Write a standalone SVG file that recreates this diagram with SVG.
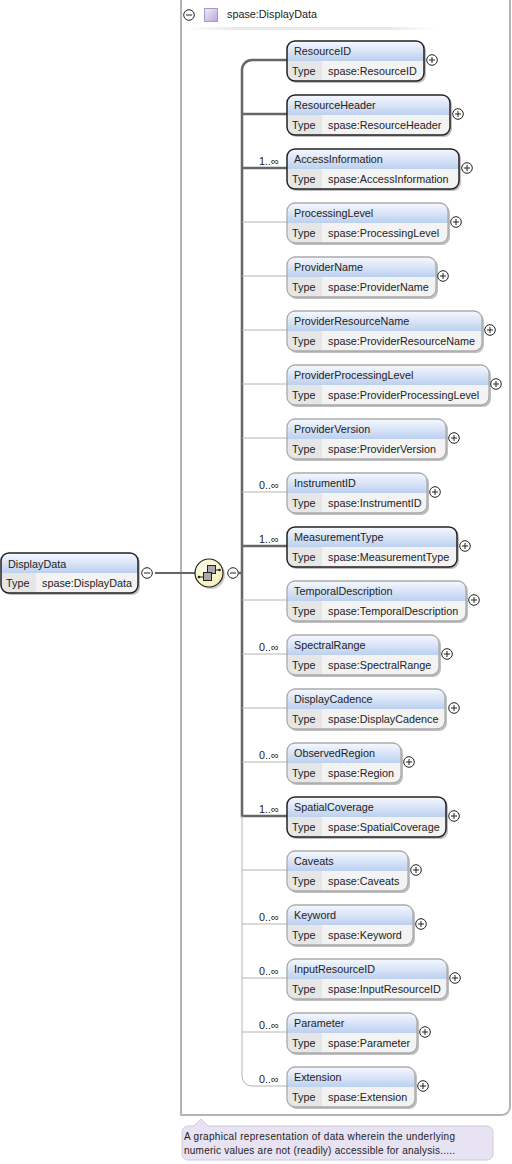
<svg xmlns="http://www.w3.org/2000/svg" width="512" height="1164" viewBox="0 0 512 1164">
<style>
text{font-family:"Liberation Sans",Arial,sans-serif;font-size:10.8px;fill:#222}
.sh{fill:#8a8a8a;opacity:.55}
.hd{fill:url(#hg)}
.bd{fill:#f3f3f3}
.ty{fill:#e6e6e6}
.ol{fill:none;stroke:#aaa;stroke-width:1.3}
.req .ol{stroke:#222;stroke-width:1.5}
.btn{fill:#fff;stroke:#222;stroke-width:1}
.sym{stroke:#222;stroke-width:1;fill:none}
.thick{stroke:#666;stroke-width:2.5;fill:none}
.thin{stroke:#b4b4b4;stroke-width:1;fill:none}
</style>
<defs>
<linearGradient id="hg" x1="0" y1="0" x2="0" y2="1"><stop offset="0" stop-color="#f7f9fe"/><stop offset="1" stop-color="#bcd0f0"/></linearGradient>
<linearGradient id="sq" x1="0" y1="0" x2="1" y2="1"><stop offset="0" stop-color="#f0ecf8"/><stop offset="1" stop-color="#b8a8d8"/></linearGradient>
<linearGradient id="sep" x1="0" y1="0" x2="1" y2="0"><stop offset="0" stop-color="#fff"/><stop offset=".2" stop-color="#e8e8e8"/><stop offset=".8" stop-color="#e8e8e8"/><stop offset="1" stop-color="#fff"/></linearGradient>
<radialGradient id="yl" cx=".4" cy=".35" r=".7"><stop offset="0" stop-color="#fffdf0"/><stop offset="1" stop-color="#f5efb4"/></radialGradient>
<g id="plus"><circle class="btn" r="5.3"/><path class="sym" d="M-3 0H3M0-3V3"/></g>
<g id="minus"><circle class="btn" r="5.3"/><path class="sym" d="M-3 0H3"/></g>
</defs>
<g id="container">
<path d="M181 0V1115H502a8 8 0 0 0 8-8V0" fill="none" stroke="#b4b4b4" stroke-width="2"/>
<rect x="186" y="27" width="250" height="3" fill="url(#sep)"/>
<use href="#minus" x="189" y="15"/>
<rect x="204.500" y="8.500" width="13" height="13" fill="url(#sq)" stroke="#a898c8"/>
<text x="227" y="18">spase:DisplayData</text>
</g>
<g id="connectors">
<path class="thick" d="M155 573H195" style="stroke-width:2"/>
<path class="thick" d="M287 60H252a10 10 0 0 0-10 10V816H287M242 114H287M242 168H287M242 546H287M239 573H242"/>
<path class="thin" d="M242 816V1076a10 10 0 0 0 10 10H287M242 222H287M242 276H287M242 330H287M242 384H287M242 438H287M242 492H287M242 600H287M242 654H287M242 708H287M242 762H287M242 870H287M242 924H287M242 978H287M242 1032H287"/>
</g>
<g id="compositor">
<circle cx="211" cy="575" r="14" fill="#8a8a8a" opacity=".45"/>
<circle cx="209" cy="573" r="14" fill="url(#yl)" stroke="#222" stroke-width="1.2"/>
<path d="M203 577H199M215 570H219" stroke="#222" stroke-width="1.2"/>
<rect x="207.500" y="565.500" width="8" height="8" fill="#aaa" stroke="#222"/>
<rect x="203.500" y="572.500" width="8" height="8" fill="#aaa" stroke="#222"/>
<circle cx="199" cy="577" r="1.300" fill="#222"/><circle cx="219.500" cy="570" r="1.300" fill="#222"/>
<use href="#minus" x="233" y="573"/>
</g>
<g id="n-DisplayData" class="req" transform="translate(1,553)">
<rect class="sh" x="2" y="2" width="137" height="40" rx="8"/>
<path class="hd" d="M0 20V8a8 8 0 0 1 8-8H129a8 8 0 0 1 8 8V20Z"/>
<path class="bd" d="M0 20H137V32a8 8 0 0 1-8 8H8a8 8 0 0 1-8-8Z"/>
<path class="ty" d="M0 20H35V40H8a8 8 0 0 1-8-8Z"/>
<rect class="ol" width="137" height="40" rx="8"/>
<text x="7" y="15">DisplayData</text><text x="5" y="34">Type</text><text x="41" y="34">spase:DisplayData</text>
<use href="#minus" x="146" y="20"/>
</g>
<g id="n-ResourceID" class="req" transform="translate(287,41)">
<rect class="sh" x="2" y="2" width="137" height="40" rx="8"/><path class="hd" d="M0 20V8a8 8 0 0 1 8-8H129a8 8 0 0 1 8 8V20Z"/><path class="bd" d="M0 20H137V32a8 8 0 0 1-8 8H8a8 8 0 0 1-8-8Z"/><path class="ty" d="M0 20H35V40H8a8 8 0 0 1-8-8Z"/><rect class="ol" width="137" height="40" rx="8"/>
<text x="7" y="14">ResourceID</text><text x="5" y="34">Type</text><text x="41" y="34">spase:ResourceID</text><use href="#plus" x="145" y="19"/></g>
<g id="n-ResourceHeader" class="req" transform="translate(287,95)">
<rect class="sh" x="2" y="2" width="163" height="40" rx="8"/><path class="hd" d="M0 20V8a8 8 0 0 1 8-8H155a8 8 0 0 1 8 8V20Z"/><path class="bd" d="M0 20H163V32a8 8 0 0 1-8 8H8a8 8 0 0 1-8-8Z"/><path class="ty" d="M0 20H35V40H8a8 8 0 0 1-8-8Z"/><rect class="ol" width="163" height="40" rx="8"/>
<text x="7" y="14">ResourceHeader</text><text x="5" y="34">Type</text><text x="41" y="34">spase:ResourceHeader</text><use href="#plus" x="171" y="19"/></g>
<g id="n-AccessInformation" class="req" transform="translate(287,149)">
<rect class="sh" x="2" y="2" width="172" height="40" rx="8"/><path class="hd" d="M0 20V8a8 8 0 0 1 8-8H164a8 8 0 0 1 8 8V20Z"/><path class="bd" d="M0 20H172V32a8 8 0 0 1-8 8H8a8 8 0 0 1-8-8Z"/><path class="ty" d="M0 20H35V40H8a8 8 0 0 1-8-8Z"/><rect class="ol" width="172" height="40" rx="8"/>
<text x="7" y="14">AccessInformation</text><text x="5" y="34">Type</text><text x="41" y="34">spase:AccessInformation</text><use href="#plus" x="180" y="19"/><text x="-28" y="16">1..∞</text></g>
<g id="n-ProcessingLevel" transform="translate(287,203)">
<rect class="sh" x="2" y="2" width="161" height="40" rx="8"/><path class="hd" d="M0 20V8a8 8 0 0 1 8-8H153a8 8 0 0 1 8 8V20Z"/><path class="bd" d="M0 20H161V32a8 8 0 0 1-8 8H8a8 8 0 0 1-8-8Z"/><path class="ty" d="M0 20H35V40H8a8 8 0 0 1-8-8Z"/><rect class="ol" width="161" height="40" rx="8"/>
<text x="7" y="14">ProcessingLevel</text><text x="5" y="34">Type</text><text x="41" y="34">spase:ProcessingLevel</text><use href="#plus" x="169" y="19"/></g>
<g id="n-ProviderName" transform="translate(287,257)">
<rect class="sh" x="2" y="2" width="149" height="40" rx="8"/><path class="hd" d="M0 20V8a8 8 0 0 1 8-8H141a8 8 0 0 1 8 8V20Z"/><path class="bd" d="M0 20H149V32a8 8 0 0 1-8 8H8a8 8 0 0 1-8-8Z"/><path class="ty" d="M0 20H35V40H8a8 8 0 0 1-8-8Z"/><rect class="ol" width="149" height="40" rx="8"/>
<text x="7" y="14">ProviderName</text><text x="5" y="34">Type</text><text x="41" y="34">spase:ProviderName</text><use href="#plus" x="156" y="19"/></g>
<g id="n-ProviderResourceName" transform="translate(287,311)">
<rect class="sh" x="2" y="2" width="195" height="40" rx="8"/><path class="hd" d="M0 20V8a8 8 0 0 1 8-8H187a8 8 0 0 1 8 8V20Z"/><path class="bd" d="M0 20H195V32a8 8 0 0 1-8 8H8a8 8 0 0 1-8-8Z"/><path class="ty" d="M0 20H35V40H8a8 8 0 0 1-8-8Z"/><rect class="ol" width="195" height="40" rx="8"/>
<text x="7" y="14">ProviderResourceName</text><text x="5" y="34">Type</text><text x="41" y="34">spase:ProviderResourceName</text><use href="#plus" x="203" y="19"/></g>
<g id="n-ProviderProcessingLevel" transform="translate(287,365)">
<rect class="sh" x="2" y="2" width="202" height="40" rx="8"/><path class="hd" d="M0 20V8a8 8 0 0 1 8-8H194a8 8 0 0 1 8 8V20Z"/><path class="bd" d="M0 20H202V32a8 8 0 0 1-8 8H8a8 8 0 0 1-8-8Z"/><path class="ty" d="M0 20H35V40H8a8 8 0 0 1-8-8Z"/><rect class="ol" width="202" height="40" rx="8"/>
<text x="7" y="14">ProviderProcessingLevel</text><text x="5" y="34">Type</text><text x="41" y="34">spase:ProviderProcessingLevel</text><use href="#plus" x="209" y="19"/></g>
<g id="n-ProviderVersion" transform="translate(287,419)">
<rect class="sh" x="2" y="2" width="159" height="40" rx="8"/><path class="hd" d="M0 20V8a8 8 0 0 1 8-8H151a8 8 0 0 1 8 8V20Z"/><path class="bd" d="M0 20H159V32a8 8 0 0 1-8 8H8a8 8 0 0 1-8-8Z"/><path class="ty" d="M0 20H35V40H8a8 8 0 0 1-8-8Z"/><rect class="ol" width="159" height="40" rx="8"/>
<text x="7" y="14">ProviderVersion</text><text x="5" y="34">Type</text><text x="41" y="34">spase:ProviderVersion</text><use href="#plus" x="167" y="19"/></g>
<g id="n-InstrumentID" transform="translate(287,473)">
<rect class="sh" x="2" y="2" width="140" height="40" rx="8"/><path class="hd" d="M0 20V8a8 8 0 0 1 8-8H132a8 8 0 0 1 8 8V20Z"/><path class="bd" d="M0 20H140V32a8 8 0 0 1-8 8H8a8 8 0 0 1-8-8Z"/><path class="ty" d="M0 20H35V40H8a8 8 0 0 1-8-8Z"/><rect class="ol" width="140" height="40" rx="8"/>
<text x="7" y="14">InstrumentID</text><text x="5" y="34">Type</text><text x="41" y="34">spase:InstrumentID</text><use href="#plus" x="148" y="19"/><text x="-28" y="16">0..∞</text></g>
<g id="n-MeasurementType" class="req" transform="translate(287,527)">
<rect class="sh" x="2" y="2" width="170" height="40" rx="8"/><path class="hd" d="M0 20V8a8 8 0 0 1 8-8H162a8 8 0 0 1 8 8V20Z"/><path class="bd" d="M0 20H170V32a8 8 0 0 1-8 8H8a8 8 0 0 1-8-8Z"/><path class="ty" d="M0 20H35V40H8a8 8 0 0 1-8-8Z"/><rect class="ol" width="170" height="40" rx="8"/>
<text x="7" y="14">MeasurementType</text><text x="5" y="34">Type</text><text x="41" y="34">spase:MeasurementType</text><use href="#plus" x="178" y="19"/><text x="-28" y="16">1..∞</text></g>
<g id="n-TemporalDescription" transform="translate(287,581)">
<rect class="sh" x="2" y="2" width="179" height="40" rx="8"/><path class="hd" d="M0 20V8a8 8 0 0 1 8-8H171a8 8 0 0 1 8 8V20Z"/><path class="bd" d="M0 20H179V32a8 8 0 0 1-8 8H8a8 8 0 0 1-8-8Z"/><path class="ty" d="M0 20H35V40H8a8 8 0 0 1-8-8Z"/><rect class="ol" width="179" height="40" rx="8"/>
<text x="7" y="14">TemporalDescription</text><text x="5" y="34">Type</text><text x="41" y="34">spase:TemporalDescription</text><use href="#plus" x="187" y="19"/></g>
<g id="n-SpectralRange" transform="translate(287,635)">
<rect class="sh" x="2" y="2" width="152" height="40" rx="8"/><path class="hd" d="M0 20V8a8 8 0 0 1 8-8H144a8 8 0 0 1 8 8V20Z"/><path class="bd" d="M0 20H152V32a8 8 0 0 1-8 8H8a8 8 0 0 1-8-8Z"/><path class="ty" d="M0 20H35V40H8a8 8 0 0 1-8-8Z"/><rect class="ol" width="152" height="40" rx="8"/>
<text x="7" y="14">SpectralRange</text><text x="5" y="34">Type</text><text x="41" y="34">spase:SpectralRange</text><use href="#plus" x="160" y="19"/><text x="-28" y="16">0..∞</text></g>
<g id="n-DisplayCadence" transform="translate(287,689)">
<rect class="sh" x="2" y="2" width="158" height="40" rx="8"/><path class="hd" d="M0 20V8a8 8 0 0 1 8-8H150a8 8 0 0 1 8 8V20Z"/><path class="bd" d="M0 20H158V32a8 8 0 0 1-8 8H8a8 8 0 0 1-8-8Z"/><path class="ty" d="M0 20H35V40H8a8 8 0 0 1-8-8Z"/><rect class="ol" width="158" height="40" rx="8"/>
<text x="7" y="14">DisplayCadence</text><text x="5" y="34">Type</text><text x="41" y="34">spase:DisplayCadence</text><use href="#plus" x="167" y="19"/></g>
<g id="n-ObservedRegion" transform="translate(287,743)">
<rect class="sh" x="2" y="2" width="114" height="40" rx="8"/><path class="hd" d="M0 20V8a8 8 0 0 1 8-8H106a8 8 0 0 1 8 8V20Z"/><path class="bd" d="M0 20H114V32a8 8 0 0 1-8 8H8a8 8 0 0 1-8-8Z"/><path class="ty" d="M0 20H35V40H8a8 8 0 0 1-8-8Z"/><rect class="ol" width="114" height="40" rx="8"/>
<text x="7" y="14">ObservedRegion</text><text x="5" y="34">Type</text><text x="41" y="34">spase:Region</text><use href="#plus" x="122" y="19"/><text x="-28" y="16">0..∞</text></g>
<g id="n-SpatialCoverage" class="req" transform="translate(287,797)">
<rect class="sh" x="2" y="2" width="159" height="40" rx="8"/><path class="hd" d="M0 20V8a8 8 0 0 1 8-8H151a8 8 0 0 1 8 8V20Z"/><path class="bd" d="M0 20H159V32a8 8 0 0 1-8 8H8a8 8 0 0 1-8-8Z"/><path class="ty" d="M0 20H35V40H8a8 8 0 0 1-8-8Z"/><rect class="ol" width="159" height="40" rx="8"/>
<text x="7" y="14">SpatialCoverage</text><text x="5" y="34">Type</text><text x="41" y="34">spase:SpatialCoverage</text><use href="#plus" x="167" y="19"/><text x="-28" y="16">1..∞</text></g>
<g id="n-Caveats" transform="translate(287,851)">
<rect class="sh" x="2" y="2" width="121" height="40" rx="8"/><path class="hd" d="M0 20V8a8 8 0 0 1 8-8H113a8 8 0 0 1 8 8V20Z"/><path class="bd" d="M0 20H121V32a8 8 0 0 1-8 8H8a8 8 0 0 1-8-8Z"/><path class="ty" d="M0 20H35V40H8a8 8 0 0 1-8-8Z"/><rect class="ol" width="121" height="40" rx="8"/>
<text x="7" y="14">Caveats</text><text x="5" y="34">Type</text><text x="41" y="34">spase:Caveats</text><use href="#plus" x="129" y="19"/></g>
<g id="n-Keyword" transform="translate(287,905)">
<rect class="sh" x="2" y="2" width="126" height="40" rx="8"/><path class="hd" d="M0 20V8a8 8 0 0 1 8-8H118a8 8 0 0 1 8 8V20Z"/><path class="bd" d="M0 20H126V32a8 8 0 0 1-8 8H8a8 8 0 0 1-8-8Z"/><path class="ty" d="M0 20H35V40H8a8 8 0 0 1-8-8Z"/><rect class="ol" width="126" height="40" rx="8"/>
<text x="7" y="14">Keyword</text><text x="5" y="34">Type</text><text x="41" y="34">spase:Keyword</text><use href="#plus" x="134" y="19"/><text x="-28" y="16">0..∞</text></g>
<g id="n-InputResourceID" transform="translate(287,959)">
<rect class="sh" x="2" y="2" width="160" height="40" rx="8"/><path class="hd" d="M0 20V8a8 8 0 0 1 8-8H152a8 8 0 0 1 8 8V20Z"/><path class="bd" d="M0 20H160V32a8 8 0 0 1-8 8H8a8 8 0 0 1-8-8Z"/><path class="ty" d="M0 20H35V40H8a8 8 0 0 1-8-8Z"/><rect class="ol" width="160" height="40" rx="8"/>
<text x="7" y="14">InputResourceID</text><text x="5" y="34">Type</text><text x="41" y="34">spase:InputResourceID</text><use href="#plus" x="168" y="19"/><text x="-28" y="16">0..∞</text></g>
<g id="n-Parameter" transform="translate(287,1013)">
<rect class="sh" x="2" y="2" width="130" height="40" rx="8"/><path class="hd" d="M0 20V8a8 8 0 0 1 8-8H122a8 8 0 0 1 8 8V20Z"/><path class="bd" d="M0 20H130V32a8 8 0 0 1-8 8H8a8 8 0 0 1-8-8Z"/><path class="ty" d="M0 20H35V40H8a8 8 0 0 1-8-8Z"/><rect class="ol" width="130" height="40" rx="8"/>
<text x="7" y="14">Parameter</text><text x="5" y="34">Type</text><text x="41" y="34">spase:Parameter</text><use href="#plus" x="138" y="19"/><text x="-28" y="16">0..∞</text></g>
<g id="n-Extension" transform="translate(287,1067)">
<rect class="sh" x="2" y="2" width="128" height="40" rx="8"/><path class="hd" d="M0 20V8a8 8 0 0 1 8-8H120a8 8 0 0 1 8 8V20Z"/><path class="bd" d="M0 20H128V32a8 8 0 0 1-8 8H8a8 8 0 0 1-8-8Z"/><path class="ty" d="M0 20H35V40H8a8 8 0 0 1-8-8Z"/><rect class="ol" width="128" height="40" rx="8"/>
<text x="7" y="14">Extension</text><text x="5" y="34">Type</text><text x="41" y="34">spase:Extension</text><use href="#plus" x="136" y="19"/><text x="-28" y="16">0..∞</text></g>
<g id="note">
<path d="M188 1126H194L201 1119L208 1126H487a6 6 0 0 1 6 6V1154a6 6 0 0 1-6 6H188a6 6 0 0 1-6-6V1132a6 6 0 0 1 6-6Z" fill="#e8e3f2" stroke="#cfc8de"/>
<text x="184" y="1140" style="font-size:10px" textLength="271">A graphical representation of data wherein the underlying</text>
<text x="184" y="1154" style="font-size:10px" textLength="271">numeric values are not (readily) accessible for analysis.....</text>
</g>
</svg>
